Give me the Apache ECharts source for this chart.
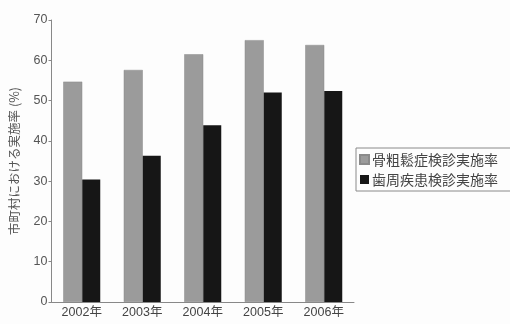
<!DOCTYPE html>
<html>
<head>
<meta charset="utf-8">
<script src="https://cdn.jsdelivr.net/npm/echarts@6/dist/echarts.min.js"></script>
<style>
  html, body { margin: 0; padding: 0; background: #fdfdfd; }
  #chart { width: 510px; height: 324px; }
</style>
</head>
<body>
<div id="chart"></div>
<script>
// Screening rates by municipality, 2002–2006
const years = ['2002年', '2003年', '2004年', '2005年', '2006年'];
const osteoporosisRate = [54.7, 57.6, 61.5, 65.0, 63.8];
const periodontalRate = [30.4, 36.3, 43.9, 52.0, 52.4];
const seriesNames = ['骨粗鬆症検診実施率', '歯周疾患検診実施率'];
const yTicks = { min: 0, max: 70, interval: 10 };

const font = '"Liberation Sans", "Noto Sans CJK JP", sans-serif';
const cjkFont = '"Noto Sans CJK JP", sans-serif';
const chart = echarts.init(document.getElementById('chart'));

chart.setOption({
  backgroundColor: '#fdfdfd',
  animation: false,
  textStyle: { fontFamily: font },
  grid: { left: 48, right: 156, top: 20, bottom: 22 },
  legend: {
    orient: 'vertical',
    left: 356,
    top: 148,
    padding: [4, 30, 4, 3],
    itemGap: 5,
    itemWidth: 9,
    itemHeight: 9,
    borderColor: '#8a8a8a',
    borderWidth: 1,
    icon: 'rect',
    textStyle: { fontSize: 14, lineHeight: 15, color: '#444', fontFamily: cjkFont, padding: [0, 0, 0, -2] },
    data: seriesNames
  },
  xAxis: {
    type: 'category',
    data: years,
    axisLine: { lineStyle: { color: '#888', width: 1 } },
    axisTick: { show: false },
    axisLabel: { fontSize: 12.5, color: '#444', margin: 4, fontFamily: font }
  },
  yAxis: {
    type: 'value',
    min: yTicks.min,
    max: yTicks.max,
    interval: yTicks.interval,
    name: '市町村における実施率 (%)',
    nameLocation: 'middle',
    nameRotate: 90,
    nameGap: 31,
    nameTextStyle: { fontSize: 12.5, color: '#555', fontFamily: cjkFont },
    axisLine: { show: true, lineStyle: { color: '#888', width: 1 } },
    axisTick: { show: true, length: 3, lineStyle: { color: '#888' } },
    splitLine: { show: false },
    axisLabel: { fontSize: 12.5, color: '#555', margin: 4, fontFamily: font }
  },
  series: [
    {
      name: seriesNames[0],
      type: 'bar',
      data: osteoporosisRate,
      barWidth: 19,
      barGap: '0%',
      itemStyle: { color: '#9b9b9b', borderColor: '#8a8a8a', borderWidth: 0.5 }
    },
    {
      name: seriesNames[1],
      type: 'bar',
      data: periodontalRate,
      barWidth: 18,
      barGap: '0%',
      itemStyle: { color: '#161616' }
    }
  ]
});
</script>
</body>
</html>
